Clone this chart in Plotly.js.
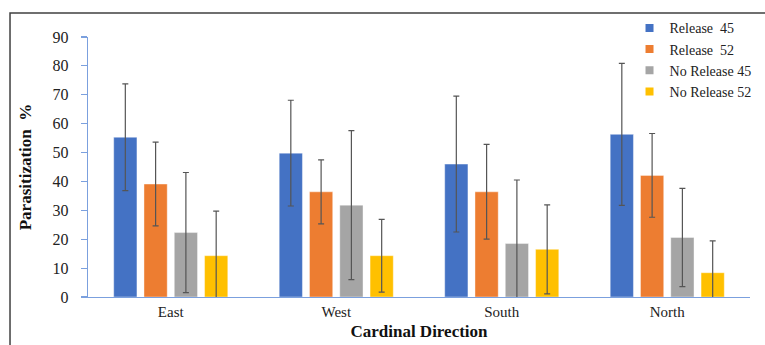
<!DOCTYPE html>
<html>
<head>
<meta charset="utf-8">
<script src="https://cdn.plot.ly/plotly-3.0.1.min.js"></script>
<style>
html,body{margin:0;padding:0;overflow:hidden;background:#fff;}
#chart{width:810px;height:345px;}
</style>
</head>
<body>
<div id="chart"></div>
<script>
const categories = ["East", "West", "South", "North"];
const seriesNames = ["Release  45", "Release  52", "No Release 45", "No Release 52"];
const release45 = [55.3, 49.8, 46.0, 56.3];
const release45Err = [18.5, 18.3, 23.5, 24.6];
const release52 = [39.1, 36.4, 36.4, 42.1];
const release52Err = [14.5, 11.1, 16.4, 14.5];
const noRelease45 = [22.3, 31.8, 18.5, 20.6];
const noRelease45Err = [20.8, 25.8, 22.0, 17.0];
const noRelease52 = [14.3, 14.3, 16.5, 8.4];
const noRelease52Err = [15.4, 12.6, 15.4, 11.0];
const colors = ["#4472C4", "#ED7D31", "#A5A5A5", "#FFC000"];

const values = [release45, release52, noRelease45, noRelease52];
const errors = [release45Err, release52Err, noRelease45Err, noRelease52Err];

const traces = [];
values.forEach((v, i) => {
  traces.push({
    type: "bar",
    x: categories,
    y: v,
    name: seriesNames[i],
    showlegend: false,
    marker: {color: colors[i], line: {color: "rgba(255,255,255,0.5)", width: 0.8}},
    error_y: {type: "data", array: errors[i], visible: true, color: "#555555", thickness: 1.2, width: 3}
  });
});
values.forEach((v, i) => {
  traces.push({
    type: "scatter",
    mode: "markers",
    x: [null],
    y: [null],
    name: seriesNames[i],
    showlegend: true,
    marker: {symbol: "square", size: 8, color: colors[i]}
  });
});

const axisColor = "#7BA0DE";
const font = "'Liberation Serif', 'Times New Roman', 'DejaVu Serif', serif";

const layout = {
  width: 810,
  height: 345,
  margin: {l: 88, r: 60, t: 37, b: 48},
  paper_bgcolor: "#ffffff",
  plot_bgcolor: "#ffffff",
  barmode: "group",
  bargap: 0.268,
  bargroupgap: 0.233,
  font: {family: font, color: "#222222", size: 15},
  showlegend: true,
  legend: {
    x: 0.818, xanchor: "left",
    y: 1.095, yanchor: "top",
    bgcolor: "rgba(0,0,0,0)",
    font: {family: font, size: 14, color: "#222222"},
    itemwidth: 30,
    tracegroupgap: 0
  },
  xaxis: {
    type: "category",
    showline: true, linecolor: axisColor, linewidth: 1.2,
    ticks: "", showgrid: false, zeroline: false,
    tickfont: {family: font, size: 15, color: "#222222"},
    ticklabelstandoff: 1,
    title: {text: "<b>Cardinal Direction</b>", font: {family: font, size: 17, color: "#111111"}, standoff: 5}
  },
  yaxis: {
    range: [0, 90], dtick: 10,
    showline: true, linecolor: axisColor, linewidth: 1.2,
    ticks: "outside", ticklen: 6, tickcolor: axisColor, tickwidth: 1.2,
    showgrid: false, zeroline: false,
    tickfont: {family: font, size: 16, color: "#222222"},
    ticklabelstandoff: 9,
    title: {text: "<b>Parasitization  %</b>", font: {family: font, size: 17, color: "#111111"}, standoff: 16}
  },
  shapes: [{
    type: "rect", xref: "paper", yref: "paper",
    x0: -0.1178, x1: 1.08, y0: -0.4, y1: 1.092,
    line: {color: "#404040", width: 1.5},
    fillcolor: "rgba(0,0,0,0)",
    layer: "above"
  }]
};

Plotly.newPlot("chart", traces, layout, {displayModeBar: false, staticPlot: true});
</script>
</body>
</html>
